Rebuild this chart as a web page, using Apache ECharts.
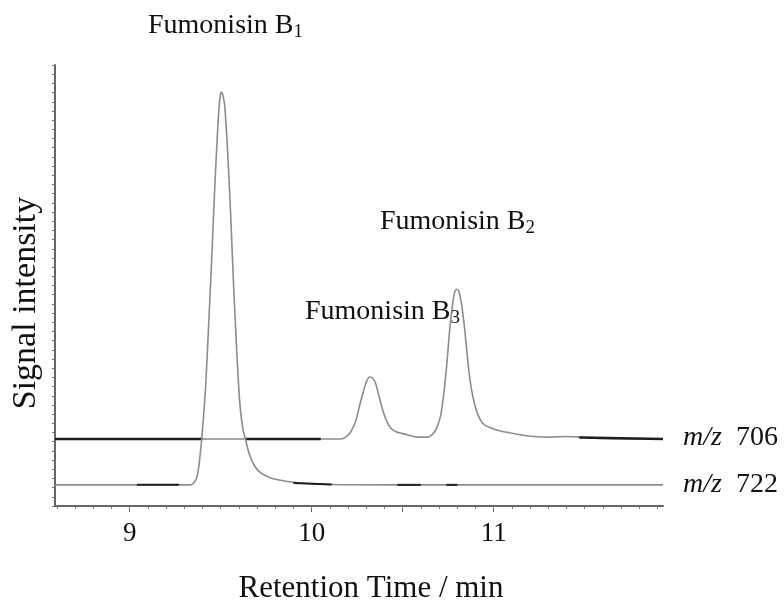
<!DOCTYPE html>
<html>
<head>
<meta charset="utf-8">
<script src="https://cdn.jsdelivr.net/npm/echarts@6/dist/echarts.min.js"></script>
<style>
html, body { margin: 0; padding: 0; background: #fff; }
#chart { width: 784px; height: 605px; }
</style>
</head>
<body>
<div id="chart"></div>
<script>
// m/z 722 trace (fumonisin B1), retention time in min, signal in arbitrary units
const mz722Time = [8.59, 9.335, 9.352, 9.368, 9.379, 9.390, 9.401, 9.418, 9.434, 9.451,
    9.467, 9.484, 9.495, 9.503, 9.511, 9.522, 9.538, 9.555, 9.571, 9.588,
    9.604, 9.621, 9.637, 9.659, 9.687, 9.720, 9.775, 9.857, 9.940, 10.104,
    10.489, 11.93];
const mz722Signal = [23, 23, 25, 30.5, 41.4, 61, 84.9, 131.7, 197, 270,
    344, 411, 442, 450.6, 448, 436, 387, 317, 240.5, 170,
    115, 85, 72, 55.5, 43.5, 36, 30.5, 27, 25, 23.4,
    23, 23];

// m/z 706 trace (fumonisin B3 and B2)
const mz706Time = [8.59, 10.159, 10.187, 10.214, 10.242, 10.264, 10.286, 10.302, 10.319, 10.335,
    10.352, 10.368, 10.385, 10.407, 10.434, 10.467, 10.516, 10.582, 10.637, 10.665,
    10.687, 10.709, 10.725, 10.742, 10.758, 10.775, 10.786, 10.797, 10.808, 10.824,
    10.841, 10.857, 10.874, 10.896, 10.918, 10.945, 10.984, 11.038, 11.121, 11.203,
    11.313, 11.396, 11.478, 11.588, 11.93];
const mz706Signal = [73, 73, 75, 80.5, 92.5, 110, 126, 136, 140.4, 139,
    133, 121, 108, 94.7, 85, 80.5, 78, 75, 75, 78.4,
    85, 99, 121, 153.5, 191.6, 221, 233, 236, 234, 219,
    191.6, 159, 131.7, 110, 97, 89, 85, 81.6, 78.4, 76,
    75, 75.6, 75, 73.5, 73];

// darker stretches of the scanned baselines
const mz706Dark = [
    [[8.59, 73], [9.40, 73]],
    [[9.64, 73], [10.05, 73]],
    [[11.47, 74.5], [11.93, 73]]
];
const mz722Dark = [
    [[9.04, 23], [9.27, 23]],
    [[9.90, 25], [10.11, 23.4]],
    [[10.47, 23], [10.60, 23]],
    [[10.74, 23], [10.80, 23]]
];

const xTickLabels = [9, 10, 11];
const xMajorTicks = [9, 10, 10.5, 11];

let minorTicks = [];
for (let i = 86; i <= 119; i++) minorTicks.push(i / 10);

const zip = (a, b) => a.map((x, i) => [x, b[i]]);

const font = 'Liberation Serif';
const chart = echarts.init(document.getElementById('chart'));

let series = [
    {
        type: 'line', data: zip(mz722Time, mz722Signal), showSymbol: false, smooth: 0.25,
        lineStyle: { color: '#8c8c8c', width: 1.6 }, z: 3
    },
    {
        type: 'line', data: zip(mz706Time, mz706Signal), showSymbol: false, smooth: 0.25,
        lineStyle: { color: '#8c8c8c', width: 1.6 }, z: 2
    }
];
mz706Dark.forEach(seg => series.push({
    type: 'line', data: seg, showSymbol: false,
    lineStyle: { color: '#1e1e1e', width: 2.5 }, z: 2
}));
mz722Dark.forEach(seg => series.push({
    type: 'line', data: seg, showSymbol: false,
    lineStyle: { color: '#1e1e1e', width: 2 }, z: 3
}));

// text helper, (x, y) is the left-middle point
const label = (x, y, text, size) => ({
    type: 'text', x: x, y: y,
    style: {
        text: text, fontFamily: font, fontSize: size, fill: '#111', verticalAlign: 'middle',
        rich: {
            s: { fontFamily: font, fontSize: Math.round(size * 0.68), padding: [12, 0, 0, 0], fill: '#111' },
            i: { fontFamily: font, fontSize: size, fontStyle: 'italic', fill: '#111' }
        }
    }
});

const option = {
    animation: false,
    grid: { left: 55, top: 65, right: 121, bottom: 99 },
    xAxis: [
        {
            type: 'value', min: 8.59, max: 11.93,
            axisLine: { lineStyle: { color: '#666', width: 2 } },
            axisTick: { customValues: xMajorTicks, length: 6, lineStyle: { color: '#666' } },
            axisLabel: {
                customValues: xTickLabels, margin: 14,
                fontFamily: font, fontSize: 27, color: '#111'
            },
            splitLine: { show: false }
        },
        {
            type: 'value', min: 8.59, max: 11.93, position: 'bottom',
            axisLine: { show: false },
            axisTick: { customValues: minorTicks, length: 3, lineStyle: { color: '#777' } },
            axisLabel: { show: false },
            splitLine: { show: false }
        }
    ],
    yAxis: {
        type: 'value', min: 0, max: 480, interval: 10,
        axisLine: { show: true, lineStyle: { color: '#666', width: 2 } },
        axisTick: { show: true, length: 3, lineStyle: { color: '#777' } },
        axisLabel: { show: false },
        splitLine: { show: false }
    },
    series: series,
    graphic: [
        {
            type: 'text', x: 371, y: 589,
            style: {
                text: 'Retention Time / min', fontFamily: font, fontSize: 31, fill: '#111',
                align: 'center', verticalAlign: 'middle'
            }
        },
        {
            type: 'text', x: 26, y: 303, rotation: Math.PI / 2,
            style: {
                text: 'Signal intensity', fontFamily: font, fontSize: 34, fill: '#111',
                align: 'center', verticalAlign: 'middle'
            }
        },
        label(148, 26, 'Fumonisin B{s|1}', 28),
        label(380, 222, 'Fumonisin B{s|2}', 28),
        label(305, 312, 'Fumonisin B{s|3}', 28),
        label(683, 438, '{i|m/z}  706', 28),
        label(683, 485, '{i|m/z}  722', 28)
    ]
};
chart.setOption(option);
</script>
</body>
</html>
